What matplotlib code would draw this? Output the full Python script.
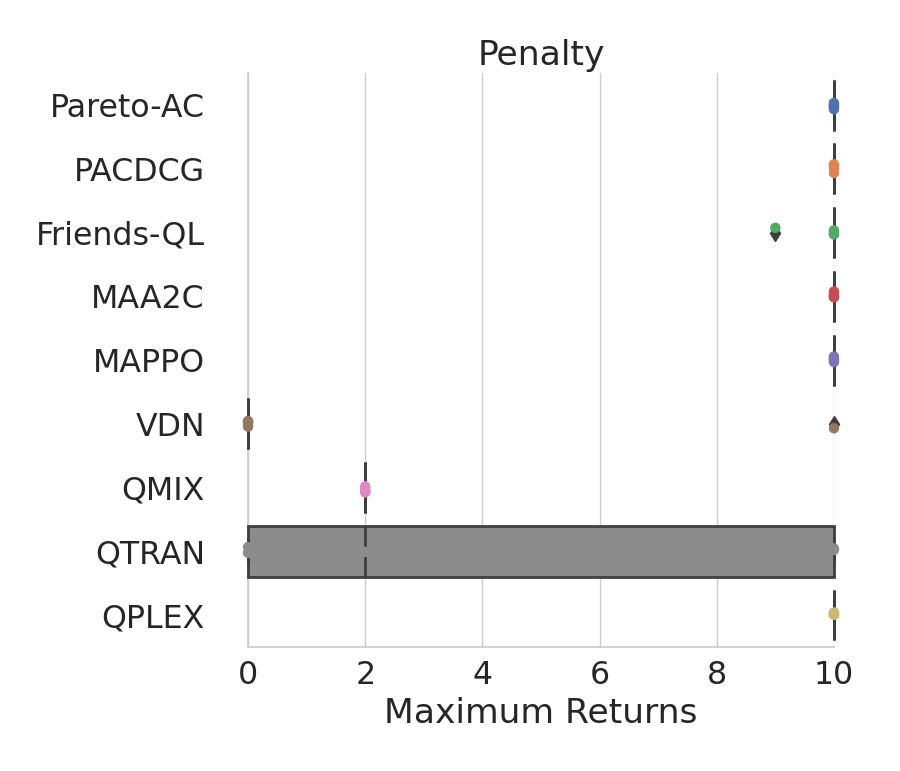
import numpy as np
import pandas as pd
import seaborn as sns
from matplotlib import pyplot as plt

sns.set_theme(style="whitegrid", font_scale=2.07)

algos = ["Pareto-AC", "PACDCG", "Friends-QL", "MAA2C", "MAPPO",
         "VDN", "QMIX", "QTRAN", "QPLEX"]

# max returns per run (5 seeds each)
pareto_ac = [10, 10, 10, 10, 10]
pacdcg = [10, 10, 10, 10, 10]
friends_ql = [9, 10, 10, 10, 10]
maa2c = [10, 10, 10, 10, 10]
mappo = [10, 10, 10, 10, 10]
vdn = [0, 0, 0, 0, 10]
qmix = [2, 2, 2, 2, 2]
qtran = [0, 0, 2, 10, 10]
qplex = [10, 10, 10, 10, 10]

runs = [pareto_ac, pacdcg, friends_ql, maa2c, mappo, vdn, qmix, qtran, qplex]
df = pd.DataFrame({
    "Algorithm": np.repeat(algos, [len(r) for r in runs]),
    "Maximum Returns": np.concatenate(runs),
})

fig = plt.figure(figsize=(9, 7.71), dpi=100)
ax = fig.add_axes([0.2756, 0.161, 0.651, 0.744])

sns.boxplot(data=df, x="Maximum Returns", y="Algorithm", hue="Algorithm",
            palette="deep", legend=False, ax=ax, linewidth=2,
            linecolor="#3f3f3f",
            flierprops=dict(marker="d", markersize=8,
                            markerfacecolor="#3f3f3f",
                            markeredgecolor="#3f3f3f"))
for art in ax.lines + ax.patches:
    art.set_clip_on(False)

np.random.seed(3)
sns.stripplot(data=df, x="Maximum Returns", y="Algorithm", hue="Algorithm",
              palette="deep", legend=False, ax=ax, jitter=0.08, size=7.5,
              clip_on=False, zorder=5)

ax.set_xlim(0, 10)
ax.set_ylabel("")
ax.set_title("Penalty")
ax.tick_params(axis="y", pad=25)
sns.despine(ax=ax)
for s in ["left", "bottom"]:
    ax.spines[s].set_color("#cccccc")
    ax.spines[s].set_zorder(0.5)

fig.savefig("out.png", dpi=100)
